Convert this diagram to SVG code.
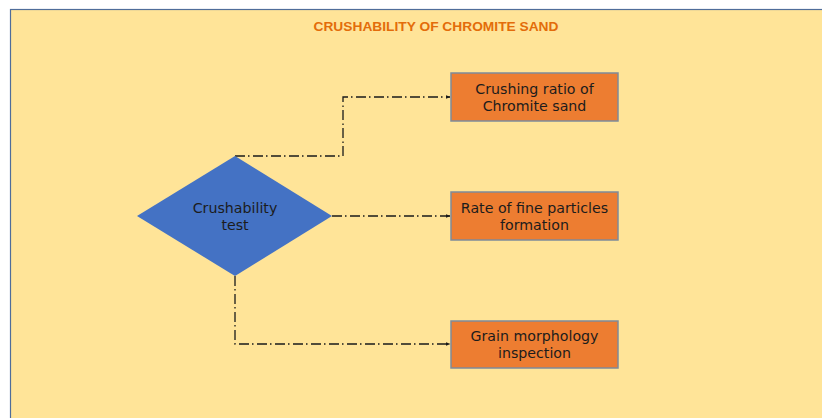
<svg xmlns="http://www.w3.org/2000/svg" width="822" height="418" viewBox="0 0 822 418">
<defs>
<style>
.bg{fill:#FFE498;stroke:#4F6D9A;stroke-width:1.2}
.box{fill:#ED7D31;stroke:#7F8A99;stroke-width:1.5}
.dia{fill:#4472C4;stroke:none}
.lbl{font-family:"DejaVu Sans","Verdana",sans-serif;font-size:14.2px;fill:#1C1C1C;text-anchor:middle}
.title{font-family:"Liberation Sans",Arial,sans-serif;font-size:13px;font-weight:bold;fill:#E36C0A;text-anchor:middle}
.conn{fill:none;stroke:#1A1A1A;stroke-width:1.3;stroke-dasharray:10,3,1.5,3.5;marker-end:url(#arr)}
</style>
<marker id="arr" viewBox="0 0 10 10" refX="9" refY="5" markerWidth="5" markerHeight="5" orient="auto" markerUnits="userSpaceOnUse">
<path d="M0,1 L10,5 L0,9 Z" fill="#1A1A1A"/>
</marker>
</defs>
<rect class="bg" x="10.5" y="9.5" width="820" height="420"/>
<text class="title" x="436" y="31" textLength="245" lengthAdjust="spacingAndGlyphs">CRUSHABILITY OF CHROMITE SAND</text>
<g id="connectors">
<path class="conn" d="M235,156 H343 V97 H450"/>
<path class="conn" d="M332,216 H450"/>
<path class="conn" d="M235,276 V344 H450"/>
</g>
<g id="crushability-test">
<polygon class="dia" points="235,156 332,216 235,276 137,216"/>
<text class="lbl" x="235" y="213">Crushability</text>
<text class="lbl" x="235" y="230">test</text>
</g>
<g id="crushing-ratio">
<rect class="box" x="451" y="73" width="167" height="48"/>
<text class="lbl" x="534.5" y="94">Crushing ratio of</text>
<text class="lbl" x="534.5" y="111">Chromite sand</text>
</g>
<g id="fine-particles">
<rect class="box" x="451" y="192" width="167" height="48"/>
<text class="lbl" x="534.5" y="213">Rate of fine particles</text>
<text class="lbl" x="534.5" y="230">formation</text>
</g>
<g id="grain-morphology">
<rect class="box" x="451" y="321" width="167" height="47"/>
<text class="lbl" x="534.5" y="341">Grain morphology</text>
<text class="lbl" x="534.5" y="358">inspection</text>
</g>
</svg>
